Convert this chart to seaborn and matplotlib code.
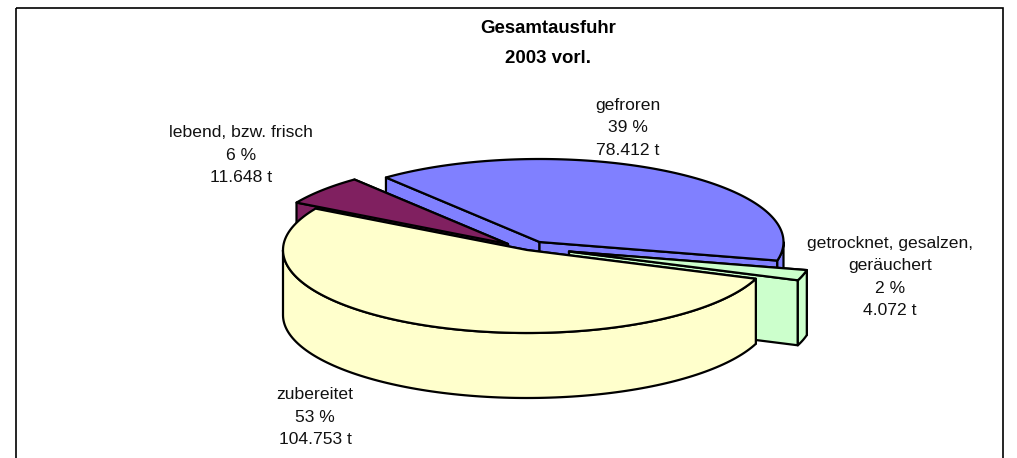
import numpy as np
import pandas as pd
import seaborn as sns
import matplotlib
matplotlib.use("Agg")
import matplotlib.pyplot as plt
from matplotlib.patches import Polygon, Rectangle

# ---- data ----
categories = ["gefroren", "getrocknet, gesalzen,\ngeräuchert", "zubereitet", "lebend, bzw. frisch"]
tonnes = [78412, 4072, 104753, 11648]
percent_labels = ["39 %", "2 %", "53 %", "6 %"]
tonne_labels = ["78.412 t", "4.072 t", "104.753 t", "11.648 t"]
title_lines = ["Gesamtausfuhr", "2003 vorl."]
colours = ["#8080FF", "#CCFFCC", "#FFFFCC", "#802060"]

df = pd.DataFrame({"cat": categories, "t": tonnes, "pct": percent_labels, "lab": tonne_labels})

# ---- layout (pixels of the figure) ----
sns.set_theme(style="white")
plt.rcParams["font.family"] = ["Liberation Sans", "DejaVu Sans"]
palette = sns.color_palette(colours)

W, H = 1017, 458
fig = plt.figure(figsize=(W / 100, H / 100), dpi=100, facecolor="white")
ax = fig.add_axes([0, 0, 1, 1])
ax.set_xlim(0, W)
ax.set_ylim(H, 0)
ax.axis("off")

CX, CY = 527, 250
RX, RY, DEPTH = 244, 83, 65
START = 129.0          # ellipse-parameter angle where the first slice begins (clockwise)
offsets = [(12.5, -8), (42, 1.5), (0, 0), (-19, -6)]
draw_order = [0, 3, 1, 2]
EDGE = dict(edgecolor="black", linewidth=1.6, joinstyle="round")

sweep = df["t"].to_numpy() / df["t"].sum() * 360
ends = START - np.cumsum(sweep)
starts = ends + sweep


def arc(cx, cy, a0, a1, n=120):
    t = np.radians(np.linspace(a0, a1, n))
    return np.column_stack([cx + RX * np.cos(t), cy - RY * np.sin(t)])


def poly(pts, col, z):
    ax.add_patch(Polygon(pts, closed=True, facecolor=col, zorder=z, **EDGE))


z = 2
for i in draw_order:
    a0, a1 = starts[i], ends[i]
    cx, cy = CX + offsets[i][0], CY + offsets[i][1]
    top = arc(cx, cy, a0, a1)
    col = palette[i]
    down = np.array([0, DEPTH])
    apex = np.array([cx, cy])
    # cut faces
    for end_pt in (top[0], top[-1]):
        poly([apex, end_pt, end_pt + down, apex + down], col, z)
        z += 1
    # outer wall: only the part in the front half
    lo, hi = max(min(a0, a1), -180), min(max(a0, a1), 0)
    if hi > lo:
        wall = arc(cx, cy, lo, hi)
        poly(np.vstack([wall, (wall + down)[::-1]]), col, z)
        z += 1
    poly(np.vstack([apex[None], top]), col, z)
    z += 1

# frame, open at the bottom edge
ax.add_patch(Rectangle((15.5, 8), 987.5, 480, facecolor="none", edgecolor="black", linewidth=1.2, zorder=z))
z += 1

# labels
label_pos = [(628, 128), (890, 277), (315, 417), (241, 155)]
for (x, y), c, p, l in zip(label_pos, df["cat"], df["pct"], df["lab"]):
    ax.text(x, y, f"{c}\n{p}\n{l}", ha="center", va="center", fontsize=12.6,
            color="#111111", linespacing=1.6, zorder=z)

ax.text(548, 43.5, "\n".join(title_lines), ha="center", va="center", fontsize=13.4,
        fontweight="bold", color="black", linespacing=1.93, zorder=z)

fig.savefig("out.png", dpi=100, facecolor="white")
